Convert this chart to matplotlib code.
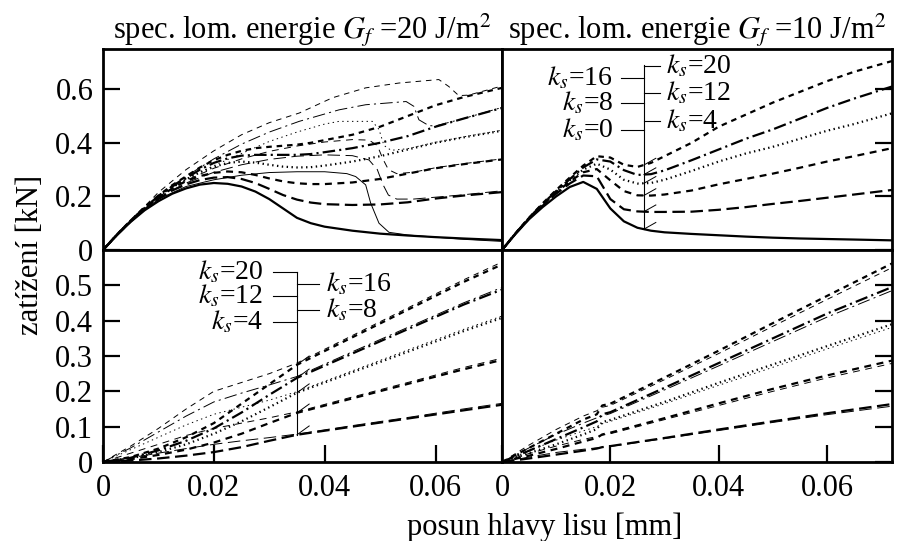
import numpy as np
import matplotlib.pyplot as plt

plt.rcParams['font.family'] = ['Liberation Serif', 'DejaVu Serif']
plt.rcParams['mathtext.fontset'] = 'stix'
plt.rcParams['lines.scale_dashes'] = False

# ---- data ----
ks = [0, 4, 8, 12, 16, 20]
x_ticks = [0, 0.02, 0.04, 0.06]
x_ticklabels = ['0', '0.02', '0.04', '0.06']
y_top_ticks = [0, 0.2, 0.4, 0.6]
y_top_ticklabels = ['0', '0.2', '0.4', '0.6']
y_bot_ticks = [0, 0.1, 0.2, 0.3, 0.4, 0.5]
y_bot_ticklabels = ['0', '0.1', '0.2', '0.3', '0.4', '0.5']
titles = [r'spec. lom. energie $G_f$ =20 J/m$^2$', r'spec. lom. energie $G_f$ =10 J/m$^2$']

# top left, Gf = 20, thick curves
tl_x = [0, 0.0025, 0.005, 0.0075, 0.01, 0.0125, 0.015, 0.0175, 0.02, 0.0225, 0.025, 0.0275,
        0.03, 0.0325, 0.035, 0.0375, 0.04, 0.045, 0.05, 0.055, 0.06, 0.065, 0.072]
tl_thick = {
    0: [0, 0.055, 0.105, 0.148, 0.182, 0.21, 0.23, 0.244, 0.25, 0.247, 0.237, 0.218,
        0.19, 0.155, 0.12, 0.1, 0.087, 0.072, 0.061, 0.054, 0.048, 0.043, 0.037],
    4: [0, 0.056, 0.107, 0.152, 0.19, 0.222, 0.245, 0.261, 0.27, 0.272, 0.265, 0.25,
        0.228, 0.205, 0.188, 0.177, 0.171, 0.168, 0.17, 0.178, 0.192, 0.203, 0.216],
    8: [0, 0.057, 0.108, 0.155, 0.195, 0.23, 0.257, 0.276, 0.288, 0.293, 0.29, 0.28,
        0.267, 0.256, 0.249, 0.246, 0.246, 0.252, 0.265, 0.285, 0.305, 0.32, 0.338],
    12: [0, 0.057, 0.109, 0.157, 0.198, 0.234, 0.263, 0.29, 0.31, 0.325, 0.33, 0.326,
         0.318, 0.311, 0.308, 0.309, 0.315, 0.33, 0.35, 0.375, 0.4, 0.42, 0.445],
    16: [0, 0.057, 0.11, 0.158, 0.2, 0.237, 0.268, 0.3, 0.325, 0.342, 0.352, 0.355,
         0.355, 0.355, 0.355, 0.358, 0.365, 0.38, 0.4, 0.425, 0.46, 0.49, 0.53],
    20: [0, 0.058, 0.11, 0.16, 0.203, 0.242, 0.275, 0.308, 0.335, 0.355, 0.37, 0.38,
         0.385, 0.389, 0.393, 0.4, 0.41, 0.43, 0.46, 0.5, 0.54, 0.57, 0.605],
}
# top left, Gf = 20, thin curves (with sudden drops)
tl_thin_x = {
    0: [0, 0.005, 0.01, 0.015, 0.02, 0.025, 0.03, 0.035, 0.04, 0.044, 0.0456, 0.0474,
        0.0483, 0.0498, 0.0516, 0.055, 0.06, 0.065, 0.072],
    4: [0, 0.005, 0.01, 0.015, 0.02, 0.025, 0.03, 0.035, 0.04, 0.045, 0.048, 0.0495,
        0.0505, 0.0515, 0.053, 0.056, 0.06, 0.065, 0.072],
    8: [0, 0.005, 0.01, 0.015, 0.02, 0.025, 0.03, 0.035, 0.04, 0.045, 0.048, 0.0495,
        0.0505, 0.0515, 0.053, 0.056, 0.06, 0.065, 0.072],
    12: [0, 0.005, 0.01, 0.015, 0.02, 0.025, 0.03, 0.035, 0.04, 0.0426, 0.0486, 0.0498,
         0.0507, 0.052, 0.055, 0.06, 0.065, 0.072],
    16: [0, 0.005, 0.01, 0.015, 0.02, 0.025, 0.03, 0.0354, 0.0426, 0.0474, 0.0547, 0.0561,
         0.057, 0.0588, 0.06, 0.065, 0.072],
    20: [0, 0.005, 0.01, 0.015, 0.02, 0.025, 0.03, 0.0354, 0.0414, 0.0474, 0.0534, 0.0606,
         0.0624, 0.0642, 0.066, 0.072],
}
tl_thin_y = {
    0: [0, 0.107, 0.19, 0.237, 0.262, 0.279, 0.289, 0.292, 0.292, 0.285, 0.274, 0.243,
        0.175, 0.1, 0.066, 0.056, 0.048, 0.04, 0.032],
    4: [0, 0.108, 0.195, 0.25, 0.29, 0.318, 0.338, 0.35, 0.355, 0.352, 0.336, 0.3,
        0.245, 0.205, 0.19, 0.19, 0.197, 0.206, 0.221],
    8: [0, 0.11, 0.198, 0.26, 0.305, 0.34, 0.368, 0.388, 0.403, 0.412, 0.41, 0.39,
        0.34, 0.3, 0.285, 0.29, 0.307, 0.322, 0.34],
    12: [0, 0.11, 0.2, 0.265, 0.315, 0.36, 0.405, 0.44, 0.47, 0.48, 0.48, 0.45,
         0.39, 0.372, 0.378, 0.402, 0.422, 0.447],
    16: [0, 0.11, 0.205, 0.275, 0.34, 0.395, 0.44, 0.48, 0.523, 0.542, 0.554, 0.536,
         0.486, 0.464, 0.463, 0.49, 0.532],
    20: [0, 0.11, 0.215, 0.3, 0.37, 0.43, 0.475, 0.511, 0.568, 0.605, 0.623, 0.636,
         0.61, 0.576, 0.578, 0.612],
}

# top right, Gf = 10
tr_x = [0, 0.0025, 0.005, 0.0075, 0.01, 0.0125, 0.015, 0.0175, 0.02, 0.0225, 0.025, 0.0275,
        0.03, 0.035, 0.04, 0.045, 0.05, 0.055, 0.06, 0.065, 0.072]
tr_y = {
    0: [0, 0.06, 0.115, 0.16, 0.2, 0.235, 0.254, 0.228, 0.155, 0.107, 0.083, 0.072,
        0.066, 0.06, 0.055, 0.05, 0.046, 0.043, 0.041, 0.039, 0.036],
    4: [0, 0.061, 0.117, 0.165, 0.21, 0.248, 0.278, 0.275, 0.19, 0.152, 0.144, 0.142,
        0.142, 0.143, 0.15, 0.16, 0.172, 0.183, 0.195, 0.207, 0.224],
    8: [0, 0.062, 0.118, 0.168, 0.215, 0.255, 0.29, 0.302, 0.26, 0.22, 0.204, 0.203,
        0.207, 0.222, 0.245, 0.265, 0.285, 0.307, 0.33, 0.35, 0.38],
    12: [0, 0.062, 0.119, 0.17, 0.218, 0.26, 0.3, 0.322, 0.3, 0.262, 0.248, 0.25,
         0.262, 0.295, 0.33, 0.36, 0.385, 0.415, 0.445, 0.47, 0.51],
    16: [0, 0.062, 0.12, 0.172, 0.22, 0.264, 0.308, 0.338, 0.33, 0.298, 0.28, 0.283,
         0.297, 0.335, 0.375, 0.415, 0.45, 0.49, 0.53, 0.565, 0.61],
    20: [0, 0.063, 0.121, 0.174, 0.224, 0.27, 0.315, 0.35, 0.345, 0.318, 0.31, 0.325,
         0.35, 0.4, 0.46, 0.505, 0.55, 0.59, 0.63, 0.665, 0.705],
}

# bottom left, Gf = 20
bl_x = [0, 0.005, 0.01, 0.015, 0.02, 0.025, 0.03, 0.035, 0.045, 0.055, 0.065, 0.072]
bl_thick = {
    4: [0, 0.004, 0.01, 0.018, 0.028, 0.042, 0.06, 0.077, 0.1, 0.123, 0.146, 0.162],
    8: [0, 0.008, 0.02, 0.035, 0.055, 0.08, 0.11, 0.139, 0.18, 0.221, 0.262, 0.289],
    12: [0, 0.01, 0.028, 0.05, 0.08, 0.115, 0.155, 0.196, 0.254, 0.312, 0.37, 0.408],
    16: [0, 0.012, 0.033, 0.06, 0.095, 0.14, 0.19, 0.238, 0.307, 0.376, 0.445, 0.488],
    20: [0, 0.014, 0.038, 0.07, 0.11, 0.165, 0.22, 0.275, 0.353, 0.431, 0.509, 0.559],
}
bl_thin = {
    4: [0, 0.012, 0.025, 0.038, 0.05, 0.06, 0.069, 0.079, 0.103, 0.126, 0.15, 0.166],
    8: [0, 0.025, 0.05, 0.075, 0.095, 0.11, 0.125, 0.142, 0.184, 0.225, 0.267, 0.294],
    12: [0, 0.035, 0.07, 0.105, 0.135, 0.155, 0.175, 0.199, 0.258, 0.317, 0.375, 0.413],
    16: [0, 0.04, 0.085, 0.13, 0.17, 0.195, 0.218, 0.242, 0.312, 0.381, 0.45, 0.494],
    20: [0, 0.045, 0.095, 0.15, 0.2, 0.225, 0.25, 0.28, 0.358, 0.436, 0.515, 0.566],
}

# bottom right, Gf = 10
br_x = [0, 0.005, 0.01, 0.015, 0.0175, 0.0185, 0.02, 0.03, 0.04, 0.05, 0.06, 0.072]
br_thick = {
    4: [0, 0.01, 0.021, 0.032, 0.038, 0.042, 0.045, 0.068, 0.092, 0.115, 0.138, 0.164],
    8: [0, 0.018, 0.037, 0.058, 0.068, 0.078, 0.083, 0.124, 0.166, 0.207, 0.245, 0.287],
    12: [0, 0.025, 0.05, 0.078, 0.093, 0.113, 0.119, 0.17, 0.224, 0.276, 0.328, 0.39],
    16: [0, 0.032, 0.065, 0.098, 0.115, 0.135, 0.141, 0.21, 0.28, 0.35, 0.42, 0.495],
    20: [0, 0.04, 0.08, 0.12, 0.135, 0.16, 0.165, 0.239, 0.315, 0.393, 0.47, 0.562],
}
br_thin = {
    4: [0, 0.014, 0.027, 0.036, 0.04, 0.042, 0.044, 0.066, 0.089, 0.112, 0.134, 0.158],
    8: [0, 0.024, 0.045, 0.064, 0.072, 0.076, 0.08, 0.12, 0.16, 0.2, 0.238, 0.279],
    12: [0, 0.032, 0.062, 0.088, 0.1, 0.108, 0.115, 0.165, 0.217, 0.268, 0.32, 0.381],
    16: [0, 0.04, 0.078, 0.11, 0.125, 0.13, 0.137, 0.204, 0.272, 0.341, 0.41, 0.485],
    20: [0, 0.048, 0.092, 0.13, 0.145, 0.155, 0.16, 0.233, 0.307, 0.384, 0.46, 0.55],
}

# ---- styles ----
dash = {
    0: '-',
    4: (0, (9, 4)),
    8: (0, (5, 4)),
    12: (0, (1, 2.5)),
    16: (0, (9, 3, 1.5, 3)),
    20: (0, (4, 3.5)),
}
thick_lw = 1.6
thin_lw = 0.7
fs = 22
fs_lab = 20

fig = plt.figure(figsize=(9.19, 5.41), dpi=100)
W, H = 919, 541


def make_ax(x0, y0, x1, y1):
    return fig.add_axes([x0 / W, 1 - y1 / H, (x1 - x0) / W, (y1 - y0) / H])


ax_tl = make_ax(103, 49, 502, 250)
ax_tr = make_ax(502, 49, 892, 250)
ax_bl = make_ax(103, 250, 502, 462)
ax_br = make_ax(502, 250, 892, 462)

for k in ks:
    ax_tl.plot(tl_x, tl_thick[k], color='black', lw=thick_lw, ls=dash[k])
    ax_tl.plot(tl_thin_x[k], tl_thin_y[k], color='black', lw=thin_lw, ls=dash[k])
    ax_tr.plot(tr_x, tr_y[k], color='black', lw=thick_lw, ls=dash[k])
for k in ks[1:]:
    ax_bl.plot(bl_x, bl_thick[k], color='black', lw=thick_lw, ls=dash[k])
    ax_bl.plot(bl_x, bl_thin[k], color='black', lw=thin_lw, ls=dash[k])
    ax_br.plot(br_x, br_thick[k], color='black', lw=thick_lw, ls=dash[k])
    ax_br.plot(br_x, br_thin[k], color='black', lw=thin_lw, ls=dash[k])

for ax in (ax_tl, ax_tr, ax_bl, ax_br):
    ax.set_xlim(0, 0.072)
    for sp in ax.spines.values():
        sp.set_linewidth(2)
    ax.tick_params(direction='in', length=12, width=1.6, labelsize=fs)
    ax.tick_params(axis='y', pad=7)
    ax.tick_params(axis='x', pad=9)

for ax in (ax_tl, ax_tr):
    ax.set_ylim(0, 0.75)
    ax.set_xticks([])
    ax.set_yticks(y_top_ticks)
for ax in (ax_bl, ax_br):
    ax.set_ylim(0, 0.6)
    ax.set_yticks(y_bot_ticks)
    ax.set_xticks(x_ticks)
    ax.set_xticklabels(x_ticklabels)

ax_tl.set_yticklabels(y_top_ticklabels)
ax_bl.set_yticklabels(y_bot_ticklabels)
for ax in (ax_tr, ax_br):
    ax.yaxis.tick_right()
    ax.tick_params(labelright=False)

ax_tl.set_title(titles[0], fontsize=fs, pad=5)
ax_tr.set_title(titles[1], fontsize=fs, pad=5)

fig.text(30 / W, 1 - 255 / H, 'zatížení [kN]', rotation=90, fontsize=fs,
         ha='center', va='center')
fig.text(545 / W, 1 - 527 / H, 'posun hlavy lisu [mm]', fontsize=fs,
         ha='center', va='center')


def bracket(ax, xv, ytop, ybot, left, right, x_left_end, x_right_end, x_lt, x_rt, curves_x, curves):
    ax.plot([xv, xv], [ybot, ytop], color='black', lw=0.8)
    for y, lab in left:
        ax.plot([x_left_end, xv], [y, y], color='black', lw=0.8)
        ax.text(x_lt, y, lab, fontsize=fs_lab, ha='right', va='center')
    for y, lab in right:
        ax.plot([xv, x_right_end], [y, y], color='black', lw=0.8)
        ax.text(x_rt, y, lab, fontsize=fs_lab, ha='left', va='center')
    for cy in curves:
        yc = np.interp(xv, curves_x, cy)
        ax.plot([xv, xv + 0.0022], [yc, yc + 0.025], color='black', lw=0.7)


lab = lambda k: r'$k_s$=%d' % k

# top right annotation
bracket(ax_tr, 0.0262, 0.69, np.interp(0.0262, tr_x, tr_y[0]),
        [(0.642, lab(16)), (0.548, lab(8)), (0.449, lab(0))],
        [(0.688, lab(20)), (0.586, lab(12)), (0.48, lab(4))],
        0.0219, 0.0291, 0.0205, 0.0302, tr_x, [tr_y[k] for k in ks])

# bottom left annotation
bracket(ax_bl, 0.035, 0.537, np.interp(0.035, bl_x, bl_thick[4]),
        [(0.537, lab(20)), (0.469, lab(12)), (0.395, lab(4))],
        [(0.504, lab(16)), (0.431, lab(8))],
        0.0306, 0.039, 0.0289, 0.0403, bl_x, [bl_thick[k] for k in ks[1:]])

fig.savefig('out.png', dpi=100)
